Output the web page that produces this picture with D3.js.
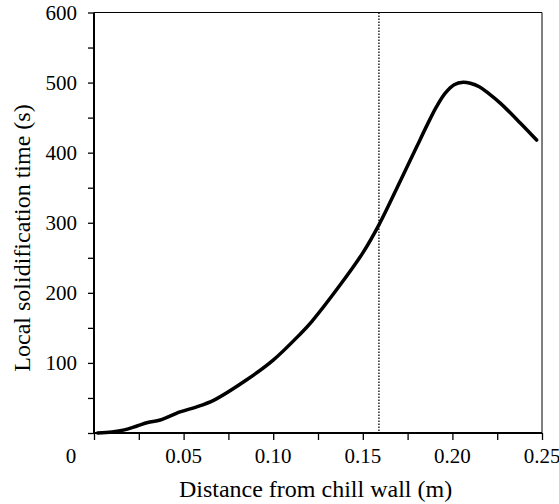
<!DOCTYPE html>
<html>
<head>
<meta charset="utf-8">
<script src="https://cdn.jsdelivr.net/npm/d3@7"></script>
<style>
    body { margin: 0; background: #fff; }
    svg { display: block; }
    text { font-family: "Liberation Serif", "Times New Roman", serif; fill: #000; }
</style>
</head>
<body>
<svg width="559" height="504"></svg>
<script>
let distance = [0.002, 0.010, 0.017, 0.024, 0.030, 0.037, 0.048, 0.057, 0.067, 0.085, 0.100, 0.115, 0.1215, 0.137, 0.150, 0.159, 0.171, 0.180, 0.186, 0.191, 0.196, 0.201, 0.206, 0.210, 0.215, 0.220, 0.227, 0.238, 0.247];
let solidTime = [0, 1.5, 4.5, 10, 15, 18.5, 30, 37, 47, 75.6, 104, 141, 159, 210, 257, 297, 360, 408, 440, 465, 485, 497, 500.5, 499, 494, 485, 470, 442, 418];
let xTickLabels = [0, 0.05, 0.10, 0.15, 0.20, 0.25];
let yTickLabels = [100, 200, 300, 400, 500, 600];
let markerX = 0.159;

let svg = d3.select("svg");

let x = d3.scaleLinear().domain([0, 0.25]).range([94, 542]);
let y = d3.scaleLinear().domain([0, 600]).range([433, 12.5]);

// frame: thin top and right
svg.append("line")
    .attr("x1", x(0)).attr("x2", x(0.25))
    .attr("y1", y(600)).attr("y2", y(600))
    .attr("stroke", "#000").attr("stroke-width", 1);
svg.append("line")
    .attr("x1", x(0.25)).attr("x2", x(0.25))
    .attr("y1", y(600)).attr("y2", y(0))
    .attr("stroke", "#000").attr("stroke-width", 1);

// ticks
let xAxis = svg.append("g")
    .attr("transform", `translate(0,${y(0)})`)
    .call(d3.axisBottom(x).tickValues(d3.range(0, 0.2501, 0.025)).tickSize(7).tickFormat(""));
xAxis.select(".domain").remove();
xAxis.selectAll("line").attr("stroke-width", 1.3);

let yAxis = svg.append("g")
    .attr("transform", `translate(${x(0)},0)`)
    .call(d3.axisLeft(y).tickValues(d3.range(0, 601, 50)).tickSize(6).tickFormat(""));
yAxis.select(".domain").remove();
yAxis.selectAll("line").attr("stroke-width", 1.3);

// thick left and bottom axis lines
svg.append("line")
    .attr("x1", x(0)).attr("x2", x(0.25))
    .attr("y1", y(0)).attr("y2", y(0))
    .attr("stroke", "#000").attr("stroke-width", 2);
svg.append("line")
    .attr("x1", x(0)).attr("x2", x(0))
    .attr("y1", y(600)).attr("y2", y(0) + 1)
    .attr("stroke", "#000").attr("stroke-width", 2);

// tick labels
svg.selectAll(".xlab")
    .data(xTickLabels)
    .enter()
    .append("text")
    .attr("class", "xlab")
    .attr("x", d => d == 0 ? x(0) - 23 : x(d))
    .attr("y", 463)
    .attr("text-anchor", "middle")
    .attr("font-size", 21)
    .text(d => d == 0 ? "0" : d.toFixed(2));

svg.selectAll(".ylab")
    .data(yTickLabels)
    .enter()
    .append("text")
    .attr("class", "ylab")
    .attr("x", 77)
    .attr("y", d => y(d) + 7.5)
    .attr("text-anchor", "end")
    .attr("font-size", 21)
    .text(d => d);

// axis titles
svg.append("text")
    .attr("x", 315.5)
    .attr("y", 497)
    .attr("text-anchor", "middle")
    .attr("font-size", 24)
    .text("Distance from chill wall (m)");

svg.append("text")
    .attr("transform", "translate(30,238) rotate(-90)")
    .attr("text-anchor", "middle")
    .attr("font-size", 24)
    .text("Local solidification time (s)");

// dotted marker
svg.append("line")
    .attr("x1", x(markerX)).attr("x2", x(markerX))
    .attr("y1", y(600)).attr("y2", y(0))
    .attr("stroke", "#000")
    .attr("stroke-width", 1.3)
    .attr("stroke-dasharray", "1.5,1.5");

// curve
let line = d3.line()
    .x((d, i) => x(distance[i]))
    .y(d => y(d))
    .curve(d3.curveCatmullRom.alpha(0.5));

svg.append("path")
    .attr("d", line(solidTime))
    .attr("fill", "none")
    .attr("stroke", "#000")
    .attr("stroke-width", 3.5)
    .attr("stroke-linecap", "round")
    .attr("stroke-linejoin", "round");
</script>
</body>
</html>
